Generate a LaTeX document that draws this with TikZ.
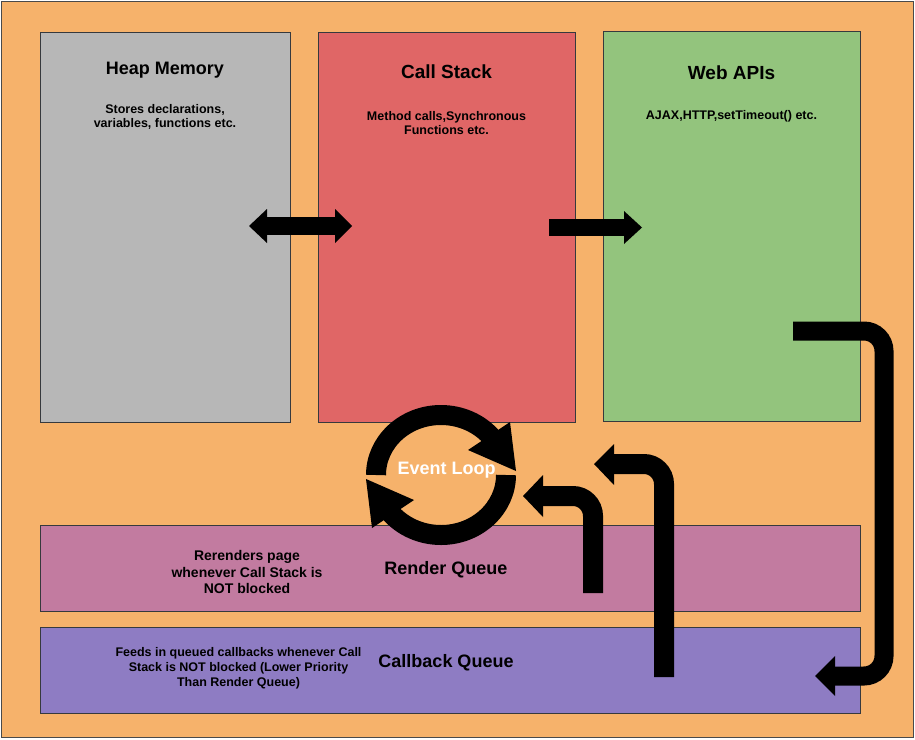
\documentclass[tikz,border=0pt]{standalone}
\usepackage{fontspec}
\setmainfont{Liberation Sans}
\definecolor{bgorange}{HTML}{F6B26B}
\definecolor{heapgray}{HTML}{B7B7B7}
\definecolor{stackred}{HTML}{E06666}
\definecolor{apigreen}{HTML}{93C47D}
\definecolor{renderpink}{HTML}{C27BA0}
\definecolor{cbpurple}{HTML}{8E7CC3}
\definecolor{edgedark}{HTML}{36393D}
\definecolor{outeredge}{HTML}{4A4A4A}
\begin{document}
\begin{tikzpicture}[x=1pt,y=-1pt,
  panel/.style={draw=edgedark,line width=0.9pt,inner sep=0pt},
  ttlbig/.style={font=\fontsize{19}{23}\selectfont\bfseries,align=center,inner sep=0pt},
  ttlmid/.style={font=\fontsize{18}{22}\selectfont\bfseries,align=center,inner sep=0pt},
  subtxt/.style={font=\fontsize{12.5}{14.8}\selectfont\bfseries,align=center,inner sep=0pt},
  rentxt/.style={font=\fontsize{14}{16.7}\selectfont\bfseries,align=center,inner sep=0pt},
  shaft/.style={draw=black,line width=#1,rounded corners=20pt},
  headfill/.style={fill=black}
]
\useasboundingbox (0,0) rectangle (915,739);
\draw[fill=bgorange,draw=outeredge,line width=1.6pt] (1.5,1.5) rectangle (913.5,737.5);

% panels
\node[panel,fill=heapgray,minimum width=250pt,minimum height=390pt] (heap) at (165,227) {};
\node[panel,fill=stackred,minimum width=257pt,minimum height=390pt] (stack) at (446.5,227) {};
\node[panel,fill=apigreen,minimum width=257pt,minimum height=390pt] (webapi) at (731.5,226) {};
\node[panel,fill=renderpink,minimum width=820pt,minimum height=86pt] (render) at (450,568.5) {};
\node[panel,fill=cbpurple,minimum width=820pt,minimum height=86pt] (callback) at (450,670) {};

% texts
\node[ttlmid] (heapT) at (165,70) {Heap Memory};
\node[subtxt] (heapD) at (165,117) {Stores declarations,\\variables, functions etc.};
\node[ttlbig] (stackT) at (446.5,71.5) {Call Stack};
\node[subtxt] (stackD) at (446.5,123) {Method calls,Synchronous\\Functions etc.};
\node[ttlbig] (webT) at (731.5,72.5) {Web APIs};
\node[subtxt] (webD) at (731.5,116.5) {AJAX,HTTP,setTimeout() etc.};
\node[ttlmid] (renderT) at (446,569.5) {Render Queue};
\node[rentxt] (renderD) at (247,572) {Rerenders page\\whenever Call Stack is\\NOT blocked};
\node[ttlmid] (cbT) at (446,662.5) {Callback Queue};
\node[subtxt] (cbD) at (238.5,668) {Feeds in queued callbacks whenever Call\\Stack is NOT blocked (Lower Priority\\Than Render Queue)};

% heap <-> stack
\coordinate (hsL) at (249,226);
\coordinate (hsLb) at (266,226);
\coordinate (hsRb) at (336,226);
\coordinate (hsR) at (352,226);
\draw[shaft=18pt] (hsLb) -- (hsRb);
\fill[headfill] (hsL) -- (267,209) -- (267,243) -- cycle;
\fill[headfill] (hsR) -- (335,209) -- (335,243) -- cycle;

% stack -> web apis
\coordinate (swS) at (549,227.5);
\coordinate (swB) at (625,227.5);
\coordinate (swT) at (642,227.5);
\draw[shaft=17pt] (swS) -- (swB);
\fill[headfill] (swT) -- (624,211) -- (624,244) -- cycle;

% web apis -> callback queue
\coordinate (wcS) at (793,331);
\coordinate (wcC1) at (884,331);
\coordinate (wcC2) at (884,676);
\coordinate (wcB) at (834,676);
\coordinate (wcT) at (815,676);
\draw[shaft=19pt] (wcS) -- (wcC1) -- (wcC2) -- (wcB);
\fill[headfill] (wcT) -- (835,656) -- (835,696) -- cycle;

% render queue -> event loop
\coordinate (reS) at (593,593);
\coordinate (reC) at (593,496);
\coordinate (reB) at (542,496);
\coordinate (reT) at (523,496);
\draw[shaft=20pt] (reS) -- (reC) -- (reB);
\fill[headfill] (reT) -- (543,475) -- (543,517) -- cycle;

% callback queue -> event loop
\coordinate (ceS) at (664,677);
\coordinate (ceC) at (664,464);
\coordinate (ceB) at (613,464);
\coordinate (ceT) at (594,464);
\draw[shaft=20pt] (ceS) -- (ceC) -- (ceB);
\fill[headfill] (ceT) -- (614,444) -- (614,485) -- cycle;

% event loop cycle
\coordinate (elc) at (441,475);
\draw[line width=20pt] (376,475) arc[start angle=180,end angle=322,x radius=65,y radius=60];
\fill (516,471) -- (468,450) -- (510,422) -- cycle;
\draw[line width=20pt] (506,475) arc[start angle=0,end angle=142,x radius=65,y radius=60];
\fill (366,479) -- (414,500) -- (372,528) -- cycle;
\node[ttlmid,text=white] (loopT) at (446.5,470.5) {Event Loop};
\end{tikzpicture}
\end{document}
